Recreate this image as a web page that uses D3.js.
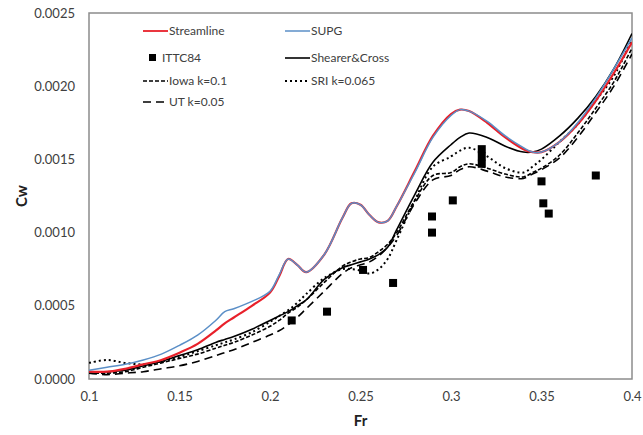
<!DOCTYPE html>
<html>
<head>
<meta charset="utf-8">
<script src="https://cdn.jsdelivr.net/npm/d3@7"></script>
<style>
  body { margin: 0; background: #fff; }
  text { font-family: Lato, "Open Sans", sans-serif; }
</style>
</head>
<body>
<svg width="643" height="435"></svg>
<script>
// Froude numbers for the computed curves
const frGrid = [0.10, 0.11, 0.12, 0.13, 0.14, 0.15, 0.16, 0.17, 0.175, 0.18, 0.19, 0.20, 0.205, 0.21, 0.215, 0.22, 0.23, 0.24, 0.245, 0.25, 0.255, 0.26, 0.265, 0.27, 0.28, 0.29, 0.30, 0.305, 0.31, 0.32, 0.33, 0.34, 0.345, 0.35, 0.36, 0.37, 0.38, 0.39, 0.40];

const streamline = [0.00005, 0.00005, 0.00007, 0.00010, 0.00013, 0.00018, 0.00024, 0.00033, 0.00038, 0.00042, 0.00050, 0.00059, 0.00070, 0.00082, 0.00078, 0.00073, 0.00085, 0.00110, 0.00120, 0.00119, 0.00112, 0.00107, 0.00108, 0.00118, 0.00142, 0.00166, 0.00181, 0.00184, 0.00183, 0.00175, 0.00165, 0.00157, 0.00155, 0.00155, 0.00162, 0.00174, 0.00190, 0.00209, 0.00230];
const supg = [0.00006, 0.00008, 0.00010, 0.00013, 0.00017, 0.00023, 0.00030, 0.00040, 0.00046, 0.00048, 0.00053, 0.00060, 0.00071, 0.00082, 0.00078, 0.00073, 0.00085, 0.00110, 0.00120, 0.00119, 0.00112, 0.00107, 0.00108, 0.00118, 0.00141, 0.00165, 0.00180, 0.00184, 0.00183, 0.00176, 0.00166, 0.00158, 0.00155, 0.00155, 0.00162, 0.00175, 0.00192, 0.00212, 0.00233];
const shearerCross = [0.00005, 0.00005, 0.00006, 0.00009, 0.00012, 0.00016, 0.00020, 0.00025, 0.00027, 0.00029, 0.00034, 0.00040, 0.00043, 0.00046, 0.00050, 0.00054, 0.00068, 0.00076, 0.00078, 0.00080, 0.00082, 0.00085, 0.00090, 0.00102, 0.00126, 0.00148, 0.00160, 0.00165, 0.00168, 0.00165, 0.00159, 0.00155, 0.00155, 0.00157, 0.00166, 0.00178, 0.00193, 0.00212, 0.00236];
const iowa = [0.00004, 0.00004, 0.00005, 0.00008, 0.00011, 0.00014, 0.00017, 0.00021, 0.00023, 0.00025, 0.00030, 0.00036, 0.00040, 0.00045, 0.00049, 0.00054, 0.00066, 0.00077, 0.00080, 0.00082, 0.00083, 0.00087, 0.00092, 0.00100, 0.00122, 0.00139, 0.00141, 0.00145, 0.00147, 0.00144, 0.00140, 0.00138, 0.00141, 0.00144, 0.00153, 0.00168, 0.00185, 0.00203, 0.00226];
const ut = [0.00004, 0.00003, 0.00004, 0.00005, 0.00007, 0.00009, 0.00012, 0.00016, 0.00018, 0.00020, 0.00025, 0.00030, 0.00033, 0.00037, 0.00042, 0.00048, 0.00060, 0.00072, 0.00076, 0.00078, 0.00080, 0.00084, 0.00090, 0.00098, 0.00120, 0.00136, 0.00139, 0.00143, 0.00145, 0.00142, 0.00138, 0.00137, 0.00140, 0.00143, 0.00151, 0.00165, 0.00182, 0.00200, 0.00222];
const sri = [0.00011, 0.00013, 0.00011, 0.00010, 0.00012, 0.00015, 0.00019, 0.00023, 0.00025, 0.00027, 0.00032, 0.00039, 0.00043, 0.00047, 0.00052, 0.00058, 0.00069, 0.00075, 0.00075, 0.00074, 0.00072, 0.00075, 0.00082, 0.00095, 0.00122, 0.00145, 0.00152, 0.00156, 0.00158, 0.00152, 0.00144, 0.00141, 0.00145, 0.00150, 0.00162, 0.00174, 0.00190, 0.00207, 0.00232];

// ITTC84 points
const ittcFr = [0.212, 0.2315, 0.2514, 0.268, 0.2895, 0.2895, 0.301, 0.317, 0.317, 0.317, 0.350, 0.351, 0.354, 0.380];
const ittcCw = [0.00040, 0.00046, 0.000745, 0.000656, 0.00111, 0.00100, 0.00122, 0.00157, 0.00152, 0.00147, 0.00135, 0.00120, 0.00113, 0.00139];

const xTicks = [0.1, 0.15, 0.2, 0.25, 0.3, 0.35, 0.4];
const yTicks = [0, 0.0005, 0.001, 0.0015, 0.002, 0.0025];

const series = [
  {name: "Streamline", values: streamline, color: "#e8202a", width: 2.2, dash: null},
  {name: "SUPG", values: supg, color: "#5b8fc7", width: 1.5, dash: null},
  {name: "Shearer&Cross", values: shearerCross, color: "#000", width: 1.6, dash: null},
  {name: "Iowa k=0.1", values: iowa, color: "#000", width: 1.6, dash: "4,2"},
  {name: "SRI k=0.065", values: sri, color: "#000", width: 2, dash: "2,3"},
  {name: "UT k=0.05", values: ut, color: "#000", width: 1.6, dash: "8,5"}
];

const svg = d3.select("svg");
const plotL = 89, plotR = 632, plotT = 13, plotB = 379;

const x = d3.scaleLinear().domain([0.1, 0.4]).range([plotL, plotR]);
const y = d3.scaleLinear().domain([0, 0.0025]).range([plotB, plotT]);

const xAxis = svg.append("g")
  .attr("transform", `translate(0,${plotB})`)
  .call(d3.axisBottom(x).tickValues(xTicks).tickSize(0).tickPadding(13).tickFormat(d3.format("")));
const yAxis = svg.append("g")
  .attr("transform", `translate(${plotL},0)`)
  .call(d3.axisLeft(y).tickValues(yTicks).tickSize(0).tickPadding(14).tickFormat(d3.format(".4f")));
[xAxis, yAxis].forEach(a => {
  a.select(".domain").remove();
  a.selectAll("text").style("font-size", "13px").attr("fill", "#404040");
});

// plot frame
svg.append("rect")
  .attr("x", plotL).attr("y", plotT)
  .attr("width", plotR - plotL).attr("height", plotB - plotT)
  .attr("fill", "none").attr("stroke", "#8c8c8c").attr("stroke-width", 1.5);

svg.append("clipPath").attr("id", "plotClip")
  .append("rect").attr("x", plotL).attr("y", plotT)
  .attr("width", plotR - plotL).attr("height", plotB - plotT);

const line = d3.line()
  .x(d => x(d[0]))
  .y(d => y(d[1]))
  .curve(d3.curveCatmullRom.alpha(0.5));

const plot = svg.append("g").attr("clip-path", "url(#plotClip)");

// draw lower series first, SUPG over Streamline
const drawOrder = ["UT k=0.05", "Iowa k=0.1", "SRI k=0.065", "Shearer&Cross", "Streamline", "SUPG"];
drawOrder.forEach(n => {
  const s = series.find(d => d.name === n);
  plot.append("path")
    .datum(frGrid.map((f, i) => [f, s.values[i]]))
    .attr("d", line)
    .attr("fill", "none")
    .attr("stroke", s.color)
    .attr("stroke-width", s.width)
    .attr("stroke-dasharray", s.dash);
});

plot.selectAll("rect.ittc")
  .data(ittcFr.map((f, i) => [f, ittcCw[i]]))
  .join("rect")
  .attr("class", "ittc")
  .attr("x", d => x(d[0]) - 4)
  .attr("y", d => y(d[1]) - 4)
  .attr("width", 8).attr("height", 8)
  .attr("fill", "#000");

// legend
const legendItems = [
  {name: "Streamline", col: 0, row: 0},
  {name: "SUPG", col: 1, row: 0},
  {name: "ITTC84", col: 0, row: 1},
  {name: "Shearer&Cross", col: 1, row: 1},
  {name: "Iowa k=0.1", col: 0, row: 2},
  {name: "SRI k=0.065", col: 1, row: 2},
  {name: "UT k=0.05", col: 0, row: 3}
];
const rowY = [31, 58, 81, 102];
const colX = [143, 285];

const lg = svg.append("g");
legendItems.forEach(it => {
  const lx = colX[it.col], ly = rowY[it.row];
  if (it.name === "ITTC84") {
    lg.append("rect").attr("x", lx + 6).attr("y", ly - 4).attr("width", 7).attr("height", 7).attr("fill", "#000");
    lg.append("text").attr("x", lx + 19).attr("y", ly).attr("dy", "0.35em")
      .style("font-size", "12px").attr("fill", "#404040").text(it.name);
    return;
  }
  const s = series.find(d => d.name === it.name);
  lg.append("line")
    .attr("x1", lx).attr("x2", lx + 25).attr("y1", ly).attr("y2", ly)
    .attr("stroke", s.color).attr("stroke-width", Math.min(s.width, 1.8))
    .attr("stroke-dasharray", s.dash);
  lg.append("text").attr("x", lx + 26).attr("y", ly).attr("dy", "0.35em")
    .style("font-size", "12px").attr("fill", "#404040").text(it.name);
});

// axis titles
svg.append("text").attr("x", (plotL + plotR) / 2).attr("y", 426)
  .attr("text-anchor", "middle").style("font-size", "15px").style("font-weight", "bold")
  .attr("fill", "#222").text("Fr");
svg.append("text").attr("transform", `translate(22,${(plotT + plotB) / 2}) rotate(-90)`)
  .attr("text-anchor", "middle").attr("dy", "0.35em").style("font-size", "15px").style("font-weight", "bold")
  .attr("fill", "#222").text("Cw");
</script>
</body>
</html>
